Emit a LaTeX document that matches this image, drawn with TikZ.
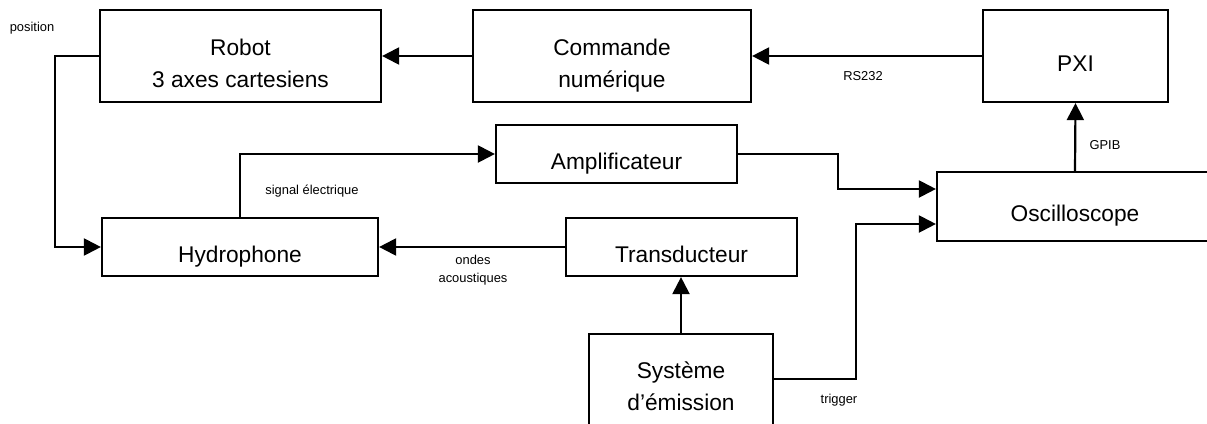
\documentclass[tikz,border=0pt]{standalone}
\usepackage{fontspec}
\setmainfont{Liberation Sans}
\usetikzlibrary{arrows.meta}
\newcommand{\boxlines}[1]{\begin{tabular}[t]{@{}c@{}}#1\end{tabular}}
\begin{document}
\begin{tikzpicture}[x=1pt,y=-1pt,
  box/.style={draw,line width=2.2pt,rectangle,inner sep=0pt,
    text height=30pt,text depth=0pt,
    font=\fontsize{22.7}{32}\selectfont},
  twol/.style={text height=30pt,text depth=32pt},
  lbl/.style={inner sep=0pt,align=center,font=\fontsize{12.9}{18}\selectfont},
  arr/.style={line width=2.2pt,-{Triangle[length=17pt,width=17pt]}}]
\useasboundingbox (0,0) rectangle (1207,423);
\clip (0,0) rectangle (1207,423);
\node[box,twol,minimum width=281pt,minimum height=92pt] (robot) at (240.5,56) {\boxlines{Robot\\3 axes cartesiens}};
\node[box,twol,minimum width=278pt,minimum height=92pt] (cmd) at (612,56) {\boxlines{Commande\\numérique}};
\node[box,minimum width=185pt,minimum height=92pt] (pxi) at (1075.5,56) {PXI};
\node[box,minimum width=241pt,minimum height=58pt] (amp) at (616.5,154) {Amplificateur};
\node[box,minimum width=276pt,minimum height=69pt] (osc) at (1075,206.5) {Oscilloscope};
\node[box,minimum width=276pt,minimum height=58pt] (hydro) at (240,247) {Hydrophone};
\node[box,minimum width=231pt,minimum height=58pt] (trans) at (681.5,247) {Transducteur};
\node[box,text height=30pt,text depth=46pt,minimum width=184pt,minimum height=104pt] (sys) at (681,386) {\boxlines{Système\\d’émission}};
\coordinate (oinA) at (osc.west |- 0,189);
\coordinate (oinB) at (osc.west |- 0,224);
\coordinate (sysout) at (sys.east |- 0,379);
\coordinate (transin) at (sys.north |- trans.south);
\draw[arr] (pxi.west) -- (cmd.east);
\draw[arr] (cmd.west) -- (robot.east);
\draw[arr] (robot.west) -- ++(-44,0) |- (hydro.west);
\draw[arr] (hydro.north) |- (amp.west);
\draw[arr] (amp.east) -- ++(100,0) |- (oinA);
\draw[arr] (trans.west) -- (hydro.east);
\draw[arr] (sys.north) -- (transin);
\draw[arr] (sysout) -- ++(82,0) |- (oinB);
\draw[arr] (osc.north) -- (pxi.south);
\node[lbl] (lpos) at (32,28) {position};
\node[lbl] (lrs) at (863,76) {RS232};
\node[lbl] (lgpib) at (1105,145) {GPIB};
\node[lbl] (lsig) at (312,191) {signal électrique};
\node[lbl] (londes) at (473,270) {ondes\\acoustiques};
\node[lbl] (ltrig) at (839,400) {trigger};
\end{tikzpicture}
\end{document}
